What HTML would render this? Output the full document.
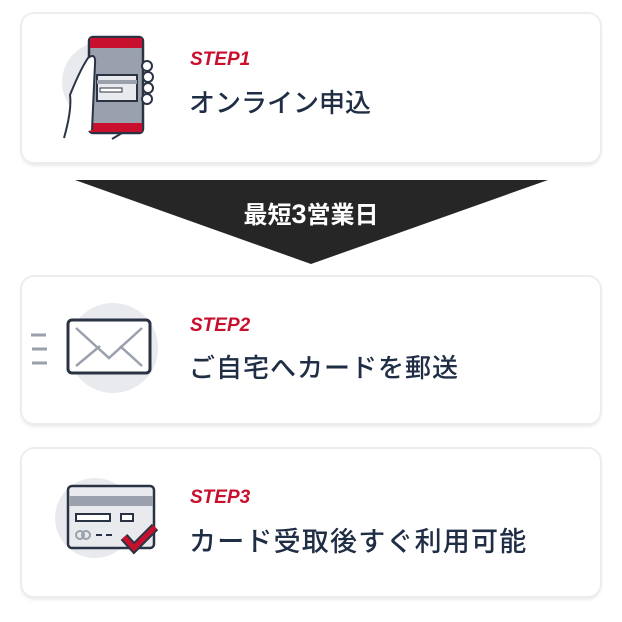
<!DOCTYPE html>
<html><head><meta charset="utf-8"><style>
body{margin:0;width:622px;height:622px;background:#fff;position:relative;font-family:"Liberation Sans","Noto Sans CJK JP",sans-serif;overflow:hidden}
.card{position:absolute;left:22px;width:578px;background:#fff;border-radius:12px;box-shadow:0 0 0 2px #ededed,0 3px 4px rgba(0,0,0,.12)}
.step{position:absolute;left:168px;color:#c8102e;font-style:italic;font-weight:bold;font-size:19px}
.ttl{position:absolute;left:167px;color:#1f2d45;font-size:26px;font-weight:500;letter-spacing:1px}
svg{position:absolute}
</style></head><body>
<div class="card" style="top:14px;height:148px">
<svg style="left:-2px;top:-4px" width="150" height="148" viewBox="20 10 150 148">
<circle cx="102" cy="82" r="40" fill="#e8eaee"/>
<rect x="89" y="37" width="54" height="96" rx="4" fill="#9aa1ad" stroke="#2a3344" stroke-width="2.5"/>
<rect x="90" y="38" width="52" height="10" fill="#c8102e"/>
<rect x="90" y="123" width="52" height="9" fill="#c8102e"/>
<rect x="97" y="75" width="40" height="26" fill="#e8eaee" stroke="#2a3344" stroke-width="2"/>
<rect x="97" y="80" width="40" height="4" fill="#9aa1ad"/>
<rect x="100" y="88" width="22" height="4" fill="#fff" stroke="#2a3344" stroke-width="1"/>
<path d="M64 138 Q72 110 70 95 Q80 70 88 58 Q96 52 95 64 L92 130" fill="#fff" stroke="#2a3344" stroke-width="2"/>
<circle cx="147" cy="66" r="5" fill="#fff" stroke="#2a3344" stroke-width="2"/>
<circle cx="148" cy="77" r="5" fill="#fff" stroke="#2a3344" stroke-width="2"/>
<circle cx="148" cy="88" r="5" fill="#fff" stroke="#2a3344" stroke-width="2"/>
<circle cx="147" cy="99" r="5" fill="#fff" stroke="#2a3344" stroke-width="2"/>
<path d="M112 139 L122 133" stroke="#2a3344" stroke-width="2"/>
</svg>
<div class="step" style="top:35px">STEP1</div>
<div class="ttl" style="top:69px;letter-spacing:0">オンライン申込</div>
</div>
<svg style="left:0;top:0" width="622" height="270"><polygon points="75,180 548,180 311,264" fill="#262626"/></svg>
<div style="position:absolute;left:0;width:622px;top:195px;text-align:center;color:#fff;font-weight:bold;font-size:24px">最短<span style="font-size:27px">3</span>営業日</div>
<div class="card" style="top:277px;height:146px">
<svg style="left:0;top:0" width="150" height="146" viewBox="22 277 150 146">
<circle cx="113" cy="348" r="45" fill="#e8eaee"/>
<path d="M31 335h15M32 349h15M32 363h15" stroke="#9aa1ad" stroke-width="3"/>
<rect x="68" y="320" width="82" height="53" rx="4" fill="#fff" stroke="#2a3344" stroke-width="3"/>
<path d="M76 328 L109 358 L142 328 M76 366 L100 346 M142 366 L120 346" fill="none" stroke="#9aa1ad" stroke-width="2.5"/>
</svg>
<div class="step" style="top:38px">STEP2</div>
<div class="ttl" style="top:71px">ご自宅へカードを郵送</div>
</div>
<div class="card" style="top:449px;height:147px">
<svg style="left:0;top:0" width="150" height="147" viewBox="22 449 150 147">
<circle cx="95" cy="518" r="40" fill="#e8eaee"/>
<rect x="68" y="486" width="86" height="62" rx="4" fill="#e8eaee" stroke="#2a3344" stroke-width="2.5"/>
<rect x="69" y="496" width="84" height="10" fill="#9aa1ad"/>
<rect x="76" y="514" width="34" height="7" fill="#fff" stroke="#2a3344" stroke-width="2"/>
<rect x="121" y="514" width="12" height="7" fill="#fff" stroke="#2a3344" stroke-width="2"/>
<circle cx="80" cy="535" r="4" fill="none" stroke="#9aa1ad" stroke-width="2"/><circle cx="86" cy="535" r="4" fill="none" stroke="#9aa1ad" stroke-width="2"/>
<path d="M96 535h6M106 535h6" stroke="#2a3344" stroke-width="2"/>
<path d="M124 537 L134 548 L155 527" fill="none" stroke="#2a3344" stroke-width="9"/>
<path d="M124 537 L134 548 L155 527" fill="none" stroke="#c8102e" stroke-width="5"/>
</svg>
<div class="step" style="top:38px">STEP3</div>
<div class="ttl" style="top:71px;font-size:27px;letter-spacing:1.2px">カード受取後すぐ利用可能</div>
</div>
</body></html>
